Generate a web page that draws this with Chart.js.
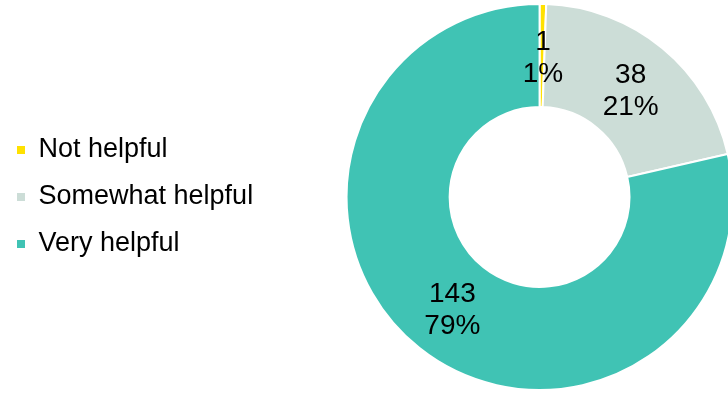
<!DOCTYPE html>
<html>
<head>
<meta charset="utf-8">
<script src="https://cdn.jsdelivr.net/npm/chart.js@4"></script>
<style>
  html, body { margin: 0; padding: 0; background: #fff; overflow: hidden; width: 728px; height: 393px; }
  #wrap { position: absolute; left: -3px; top: 0; width: 880px; height: 393px; }
</style>
</head>
<body>
<div id="wrap"><canvas id="helpful_donut"></canvas></div>
<script>
Chart.defaults.font.family = 'Arial, "Liberation Sans", sans-serif';
Chart.defaults.color = '#000';

const labels_helpful = ['Not helpful', 'Somewhat helpful', 'Very helpful'];
const counts_helpful = [1, 38, 143];
const colors_helpful = ['#FFE100', '#CCDDD7', '#40C3B4'];

const total_helpful = counts_helpful.reduce((a, b) => a + b, 0);

// writes the count and the share inside each ring segment
const sliceLabels = {
  id: 'sliceLabels',
  afterDatasetsDraw(chart) {
    const ctx = chart.ctx;
    const meta = chart.getDatasetMeta(0);
    ctx.save();
    ctx.font = '28px Arial, "Liberation Sans", sans-serif';
    ctx.fillStyle = '#000';
    ctx.textAlign = 'center';
    ctx.textBaseline = 'middle';
    meta.data.forEach((arc, i) => {
      const p = arc.tooltipPosition();
      const v = counts_helpful[i];
      const pct = Math.round((v / total_helpful) * 100) + '%';
      ctx.fillText(String(v), p.x + 1, p.y - 13);
      ctx.fillText(pct, p.x + 1, p.y + 19);
    });
    ctx.restore();
  },
};

const ctxDONUT_helpful = document.getElementById('helpful_donut');
const chart_helpful = new Chart(ctxDONUT_helpful, {
  type: 'doughnut',
  data: {
    labels: labels_helpful,
    datasets: [
      {
        data: counts_helpful,
        backgroundColor: colors_helpful,
        borderColor: '#ffffff',
        borderWidth: 2,
      },
    ],
  },
  options: {
    responsive: true,
    maintainAspectRatio: false,
    animation: false,
    cutout: '46.6%',
    layout: {
      padding: { top: 3, bottom: 2, left: 0, right: 61 },
    },
    plugins: {
      tooltip: { enabled: false },
      legend: {
        position: 'left',
        align: 'center',
        labels: {
          boxWidth: 8,
          boxHeight: 8,
          padding: 20,
          font: { size: 27 },
          color: '#000',
          generateLabels(chart) {
            const items = Chart.overrides.doughnut.plugins.legend.labels.generateLabels(chart);
            return items.map((it) => Object.assign(it, { lineWidth: 0 }));
          },
        },
      },
    },
  },
  plugins: [sliceLabels],
});
</script>
</body>
</html>
